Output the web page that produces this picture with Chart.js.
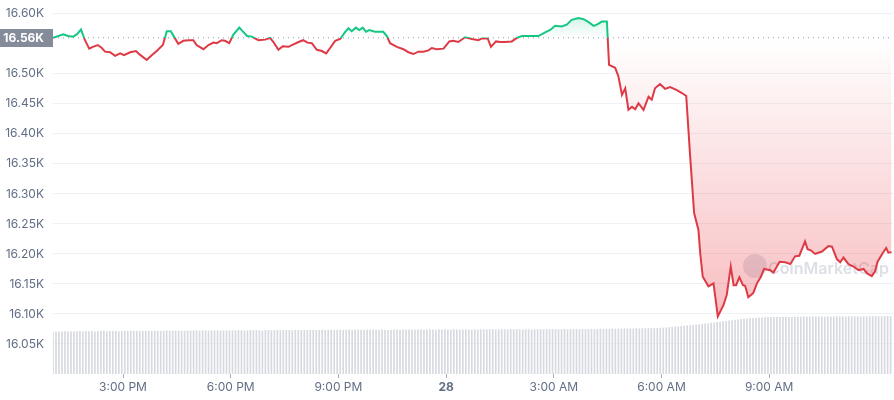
<!DOCTYPE html>
<html lang="en">
<head>
    <meta charset="UTF-8">
    <title>BTC price 24h</title>
    <style>
        body {
            margin: 0;
            padding: 0;
            background: #fff;
        }
        .chart-box {
            position: relative;
            width: 894px;
            height: 400px;
        }
    </style>
    <script src="https://cdn.jsdelivr.net/npm/chart.js"></script>
</head>
<body>
    <div class="chart-box">
        <canvas id="priceChart"></canvas>
    </div>
    <script>
        // hours counted from 12:00 PM on the 27th
        const times = [1.05,1.34,1.47,1.61,1.72,1.83,1.94,2.06,2.16,2.30,
            2.41,2.50,2.64,2.78,2.92,3.03,3.20,3.36,3.47,3.66,
            3.80,3.94,4.11,4.22,4.33,4.42,4.54,4.68,4.82,4.96,
            5.05,5.24,5.38,5.52,5.61,5.75,5.84,5.96,6.07,6.24,
            6.35,6.46,6.59,6.68,6.77,6.96,7.10,7.19,7.33,7.45,
            7.61,7.75,7.89,8.02,8.14,8.26,8.40,8.54,8.66,8.77,
            8.91,9.05,9.19,9.28,9.37,9.49,9.58,9.68,9.77,9.86,
            10.02,10.25,10.35,10.44,10.63,10.81,10.95,11.09,11.23,11.37,
            11.51,11.60,11.74,11.93,12.09,12.20,12.34,12.53,12.72,12.90,
            13.00,13.16,13.25,13.39,13.51,13.64,13.83,13.97,14.11,14.34,
            14.57,14.76,14.90,15.04,15.22,15.36,15.50,15.69,15.83,15.97,
            16.11,16.20,16.34,16.48,16.54,16.71,16.80,16.90,16.99,17.08,
            17.18,17.27,17.36,17.50,17.64,17.73,17.82,17.96,18.10,18.24,
            18.43,18.57,18.69,18.80,18.91,19.03,19.08,19.15,19.31,19.45,
            19.57,19.73,19.82,19.93,20.01,20.08,20.17,20.27,20.33,20.42,
            20.56,20.66,20.77,20.86,21.03,21.12,21.29,21.45,21.59,21.72,
            21.84,22.00,22.07,22.16,22.28,22.47,22.65,22.75,22.89,22.98,
            23.07,23.21,23.35,23.49,23.63,23.72,23.86,23.95,24.02,24.17,
            24.26,24.32,24.41];

        const prices = [16560,16566,16563,16562,16566,16574,16556,16542,16545,16548,
            16543,16537,16536,16530,16534,16531,16536,16538,16532,16523,
            16531,16538,16548,16571,16571,16562,16550,16555,16556,16556,
            16548,16541,16548,16552,16551,16556,16555,16551,16565,16577,
            16570,16563,16562,16559,16556,16557,16560,16553,16540,16546,
            16545,16549,16553,16556,16552,16551,16540,16538,16534,16543,
            16555,16558,16570,16576,16571,16577,16573,16577,16570,16573,
            16570,16570,16563,16551,16545,16541,16536,16533,16537,16537,
            16539,16543,16541,16542,16554,16555,16553,16561,16558,16556,
            16559,16559,16545,16554,16553,16553,16554,16560,16563,16563,
            16563,16569,16573,16580,16579,16582,16590,16593,16591,16586,
            16580,16582,16587,16587,16515,16510,16496,16465,16476,16440,
            16445,16441,16451,16440,16462,16457,16476,16483,16475,16478,
            16473,16468,16463,16362,16268,16240,16201,16162,16146,16151,
            16096,16115,16132,16179,16148,16148,16161,16148,16147,16128,
            16135,16151,16162,16175,16173,16169,16187,16186,16183,16196,
            16197,16221,16208,16206,16200,16204,16213,16212,16191,16186,
            16194,16183,16179,16173,16175,16168,16163,16171,16187,16202,
            16210,16202,16203];

        // 24h volume in $B, one bar every 5 minutes
        const volStart = 1.05;
        const volStepMin = 5;
        const volumes = [
            22.4,22.6,22.5,22.6,22.7,22.5,22.6,22.6,22.7,22.8,22.6,22.7,
            22.7,22.8,22.6,22.7,22.8,22.9,22.7,22.8,22.8,22.9,22.7,22.8,
            22.9,22.8,22.9,23.0,22.8,22.9,22.9,23.0,22.8,22.9,23.0,22.9,
            22.9,23.0,23.1,22.9,23.0,23.1,23.0,22.9,23.0,23.1,23.0,23.1,
            23.1,23.0,23.2,23.1,23.0,23.1,23.2,23.1,23.0,23.2,23.1,23.2,
            23.2,23.1,23.3,23.2,23.1,23.2,23.3,23.2,23.3,23.2,23.1,23.3,
            23.3,23.2,23.3,23.4,23.2,23.3,23.4,23.3,23.2,23.4,23.3,23.4,
            23.4,23.3,23.4,23.5,23.4,23.3,23.5,23.4,23.5,23.4,23.3,23.5,
            23.5,23.4,23.5,23.6,23.4,23.5,23.6,23.5,23.4,23.6,23.5,23.6,
            23.5,23.4,23.6,23.5,23.4,23.5,23.6,23.5,23.4,23.6,23.5,23.6,
            23.6,23.5,23.6,23.7,23.5,23.6,23.7,23.6,23.5,23.7,23.6,23.7,
            23.6,23.5,23.7,23.6,23.5,23.6,23.7,23.6,23.5,23.7,23.6,23.7,
            23.7,23.6,23.7,23.8,23.6,23.7,23.8,23.7,23.6,23.8,23.7,23.8,
            23.7,23.6,23.8,23.7,23.6,23.7,23.8,23.7,23.6,23.8,23.7,23.8,
            23.8,23.7,23.8,23.9,23.7,23.8,23.9,23.8,23.7,23.9,23.8,23.9,
            23.9,23.8,23.9,24.0,23.9,24.0,24.0,24.1,24.0,24.1,24.1,24.2,
            24.1,24.2,24.2,24.3,24.2,24.3,24.3,24.4,24.3,24.4,24.4,24.5,
            24.6,24.7,24.9,25.0,25.2,25.3,25.5,25.6,25.8,25.9,26.1,26.2,
            26.4,26.6,26.8,27.0,27.2,27.4,27.6,27.8,28.0,28.2,28.4,28.6,
            28.8,29.0,29.2,29.4,29.5,29.7,29.8,29.9,30.0,30.1,30.2,30.3,
            30.3,30.2,30.4,30.3,30.4,30.5,30.4,30.3,30.5,30.4,30.5,30.6,
            30.5,30.4,30.6,30.5,30.6,30.5,30.4,30.6,30.5,30.6,30.7,30.6,
            30.6,30.5,30.7,30.6,30.7,30.6,30.5,30.7,30.6,30.7,30.6,30.7,
            30.7,30.6,30.7,30.8,30.7
        ];

        const baseline = 16560;
        const baselineLabel = '16.56K';

        const xTickHours = [3, 6, 9, 12, 15, 18, 21];
        const xTickLabels = ['3:00 PM', '6:00 PM', '9:00 PM', '28', '3:00 AM', '6:00 AM', '9:00 AM'];
        const yTickValues = [16050, 16100, 16150, 16200, 16250, 16300, 16350, 16400, 16450, 16500, 16600];

        const xMin = 1.05, xMax = 24.45;
        const yMin = 16000, yMax = 16623;

        const green = '#16c784';
        const red = '#dd3a45';

        Chart.defaults.font.family = 'Inter';
        Chart.defaults.font.size = 12;
        Chart.defaults.color = '#616e85';

        function baseFrac(chart) {
            const area = chart.chartArea;
            const yb = chart.scales.y.getPixelForValue(baseline);
            let f = (yb - area.top) / (area.bottom - area.top);
            return Math.min(1, Math.max(0, f));
        }

        function lineColor(c) {
            const chart = c.chart;
            if (!chart.chartArea) return red;
            const area = chart.chartArea;
            const f = baseFrac(chart);
            const g = chart.ctx.createLinearGradient(0, area.top, 0, area.bottom);
            g.addColorStop(0, green);
            g.addColorStop(f, green);
            g.addColorStop(f, red);
            g.addColorStop(1, red);
            return g;
        }

        function fillColor(c) {
            const chart = c.chart;
            if (!chart.chartArea) return 'rgba(234,57,67,0.15)';
            const area = chart.chartArea;
            const f = baseFrac(chart);
            const g = chart.ctx.createLinearGradient(0, area.top, 0, area.bottom);
            g.addColorStop(0, 'rgba(22,199,132,0.35)');
            g.addColorStop(f, 'rgba(22,199,132,0)');
            g.addColorStop(f, 'rgba(234,57,67,0)');
            g.addColorStop(1, 'rgba(234,57,67,0.4)');
            return g;
        }

        // drop the half-label padding chart.js adds around axes
        function noPad(scale) {
            scale.paddingTop = 0;
            scale.paddingBottom = 0;
            scale.paddingLeft = 0;
            scale.paddingRight = 0;
        }

        // grey price tag on the y axis + watermark
        const extras = {
            id: 'extras',
            beforeDatasetsDraw(chart) {
                const ctx = chart.ctx;
                const a = chart.chartArea;
                const cx = a.left + 702, cy = a.bottom - 108;
                ctx.save();
                ctx.globalAlpha = 0.55;
                ctx.fillStyle = '#c9cdd8';
                ctx.beginPath();
                ctx.arc(cx, cy, 12, 0, Math.PI * 2);
                ctx.fill();
                ctx.fillStyle = '#bfc4d0';
                ctx.font = '600 16px Inter';
                ctx.textAlign = 'left';
                ctx.textBaseline = 'middle';
                ctx.fillText('CoinMarketCap', cx + 13, cy + 3);
                ctx.restore();
            },
            afterDraw(chart) {
                const ctx = chart.ctx;
                const y = chart.scales.y.getPixelForValue(baseline);
                const left = chart.chartArea.left;
                ctx.save();
                ctx.fillStyle = '#858c99';
                ctx.fillRect(0, Math.round(y) - 9, left, 18);
                ctx.fillStyle = '#fff';
                ctx.font = 'bold 12px Inter';
                ctx.textAlign = 'right';
                ctx.textBaseline = 'middle';
                ctx.fillText(baselineLabel, left - 9, Math.round(y) + 0.5);
                ctx.restore();
            }
        };

        const ctx = document.getElementById('priceChart').getContext('2d');
        const chart = new Chart(ctx, {
            type: 'line',
            data: {
                datasets: [{
                    label: 'Price',
                    data: times.map((t, i) => ({x: t, y: prices[i]})),
                    borderColor: lineColor,
                    backgroundColor: fillColor,
                    borderWidth: 2,
                    pointRadius: 0,
                    tension: 0,
                    fill: {target: {value: baseline}},
                    order: 1
                },
                {
                    label: 'Open',
                    data: [{x: xMin, y: baseline}, {x: xMax, y: baseline}],
                    borderColor: '#8f96a3',
                    borderWidth: 1,
                    borderDash: [1, 4],
                    pointRadius: 0,
                    fill: false,
                    order: 2
                },
                {
                    type: 'bar',
                    label: 'Volume',
                    data: volumes.map((v, i) => ({x: volStart + i * volStepMin / 60, y: v})),
                    backgroundColor: '#d6d9df',
                    barThickness: 1,
                    yAxisID: 'yv',
                    order: 3
                }]
            },
            options: {
                responsive: true,
                maintainAspectRatio: false,
                animation: false,
                layout: {padding: {top: 0, right: 1, bottom: 0, left: 0}},
                plugins: {
                    legend: {display: false},
                    tooltip: {enabled: false}
                },
                scales: {
                    x: {
                        type: 'linear',
                        min: xMin,
                        max: xMax,
                        offset: false,
                        border: {display: false},
                        grid: {
                            offset: false,
                            drawOnChartArea: false,
                            drawTicks: true,
                            tickLength: 4,
                            tickColor: '#a7adb8'
                        },
                        afterBuildTicks: (scale) => {
                            scale.ticks = xTickHours.map(v => ({value: v}));
                        },
                        afterFit: (scale) => { scale.height = 26; noPad(scale); },
                        ticks: {
                            autoSkip: false,
                            maxRotation: 0,
                            padding: 2,
                            callback: (v, i) => xTickLabels[i],
                            font: (c) => ({
                                family: 'Inter',
                                size: 12,
                                weight: c.tick && c.tick.value === 12 ? 'bold' : 'normal'
                            })
                        }
                    },
                    y: {
                        min: yMin,
                        max: yMax,
                        border: {display: false},
                        grid: {color: '#eff2f5', drawTicks: false},
                        afterBuildTicks: (scale) => {
                            scale.ticks = yTickValues.map(v => ({value: v}));
                        },
                        afterFit: (scale) => { scale.width = 53; noPad(scale); },
                        ticks: {
                            padding: 9,
                            callback: (v) => (v / 1000).toFixed(2) + 'K'
                        }
                    },
                    yv: {
                        display: false,
                        min: 0,
                        max: 200
                    }
                }
            },
            plugins: [extras]
        });
    </script>
</body>
</html>
